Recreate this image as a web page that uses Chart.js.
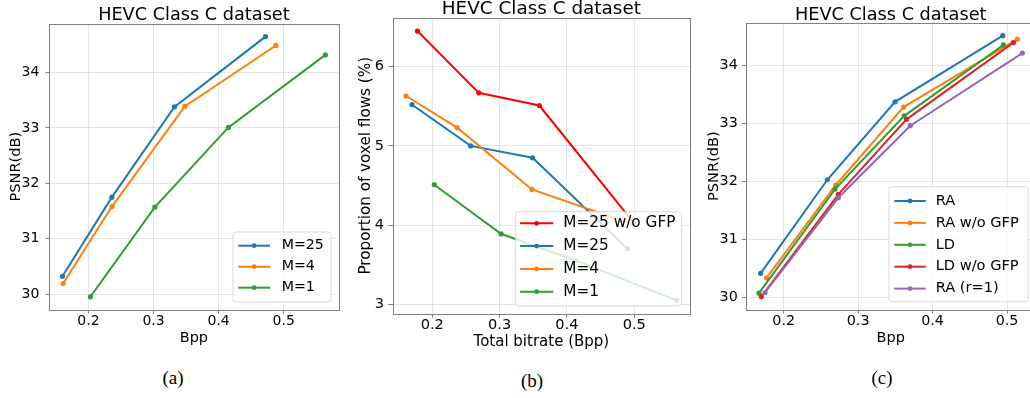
<!DOCTYPE html>
<html><head><meta charset="utf-8">
<script src="https://cdn.jsdelivr.net/npm/chart.js@4"></script>
<style>
html,body{margin:0;padding:0;background:#fff;width:1030px;height:398px;overflow:hidden;position:relative}
canvas{position:absolute;top:0}
.cap{position:absolute;font-family:"Liberation Serif","Times New Roman",serif;font-size:19px;transform:translate(-50%,-50%);color:#000;white-space:nowrap}
</style></head><body>
<canvas id="ca" width="345" height="360" style="left:0px"></canvas>
<canvas id="cb" width="350" height="360" style="left:345px"></canvas>
<canvas id="cc" width="360" height="360" style="left:690px"></canvas>
<div class="cap" style="left:173px;top:378px">(a)</div>
<div class="cap" style="left:532px;top:381px">(b)</div>
<div class="cap" style="left:882px;top:378px">(c)</div>
<script>
// ---------- shared text ----------
const titleText = "HEVC Class C dataset";
const xTicks = [0.2, 0.3, 0.4, 0.5];
const xTickLabels = ["0.2", "0.3", "0.4", "0.5"];
const psnrTicks = [30, 31, 32, 33, 34];
const psnrTickLabels = ["30", "31", "32", "33", "34"];
const flowTicks = [3, 4, 5, 6];
const flowTickLabels = ["3", "4", "5", "6"];

// ---------- panel (a) ----------
const aLabels = ["M=25", "M=4", "M=1"];
const aM25x = [0.160, 0.236, 0.332, 0.472];
const aM25y = [30.32, 31.75, 33.38, 34.65];
const aM4x  = [0.161, 0.236, 0.348, 0.488];
const aM4y  = [30.19, 31.58, 33.39, 34.49];
const aM1x  = [0.203, 0.302, 0.415, 0.564];
const aM1y  = [29.95, 31.57, 33.01, 34.32];

// ---------- panel (b) ----------
const bLabels = ["M=25 w/o GFP", "M=25", "M=4", "M=1"];
const bM25nx = [0.178, 0.269, 0.359, 0.499];
const bM25ny = [6.45, 5.67, 5.51, 4.03];
const bM25x  = [0.170, 0.257, 0.349, 0.490];
const bM25y  = [5.52, 5.00, 4.85, 3.70];
const bM4x   = [0.161, 0.237, 0.348, 0.497];
const bM4y   = [5.63, 5.23, 4.45, 4.01];
const bM1x   = [0.203, 0.302, 0.414, 0.563];
const bM1y   = [4.51, 3.89, 3.55, 3.05];

// ---------- panel (c) ----------
const cLabels = ["RA", "RA w/o GFP", "LD", "LD w/o GFP", "RA (r=1)"];
const cRAx   = [0.169, 0.2586, 0.3496, 0.4943];
const cRAy   = [30.42, 32.03, 33.37, 34.51];
const cRAnx  = [0.177, 0.270, 0.361, 0.514];
const cRAny  = [30.34, 31.94, 33.28, 34.45];
const cLDx   = [0.1668, 0.269, 0.362, 0.495];
const cLDy   = [30.08, 31.87, 33.13, 34.35];
const cLDnx  = [0.170, 0.2734, 0.365, 0.5086];
const cLDny  = [30.02, 31.78, 33.07, 34.39];
const cR1x   = [0.175, 0.2734, 0.370, 0.5207];
const cR1y   = [30.09, 31.72, 32.96, 34.21];

const C = {blue:"#1f77b4", orange:"#ff7f0e", green:"#2ca02c", red:"#d62728", purple:"#9467bd", pure:"#ff0000"};
const FONT = '"DejaVu Sans", sans-serif';
const SPINE = '#808080';

function limits(arrs) {
  const all = [].concat(...arrs);
  const lo = Math.min(...all), hi = Math.max(...all), m = (hi - lo) * 0.05;
  return [lo - m, hi + m];
}

const frameLegend = {
  id: 'frameLegend',
  afterDatasetsDraw(chart, args, o) {
    const {ctx, chartArea: a} = chart;
    ctx.save();
    // frame (all four spines)
    ctx.strokeStyle = SPINE;
    ctx.lineWidth = 1;
    ctx.strokeRect(Math.round(a.left) + 0.5, Math.round(a.top) + 0.5,
                   Math.round(a.right) - Math.round(a.left), Math.round(a.bottom) - Math.round(a.top));
    // title centred over the axes
    ctx.fillStyle = '#000';
    ctx.font = o.titleSize + 'px ' + FONT;
    ctx.textAlign = 'center';
    ctx.textBaseline = 'alphabetic';
    ctx.fillText(o.title, (a.left + a.right) / 2, o.titleBase);
    // legend
    const L = o.legend;
    const r = 3, x0 = L.x0, y0 = L.y0, x1 = L.x1, y1 = L.y1;
    ctx.beginPath();
    ctx.moveTo(x0 + r, y0); ctx.lineTo(x1 - r, y0); ctx.arcTo(x1, y0, x1, y0 + r, r);
    ctx.lineTo(x1, y1 - r); ctx.arcTo(x1, y1, x1 - r, y1, r);
    ctx.lineTo(x0 + r, y1); ctx.arcTo(x0, y1, x0, y1 - r, r);
    ctx.lineTo(x0, y0 + r); ctx.arcTo(x0, y0, x0 + r, y0, r);
    ctx.closePath();
    ctx.fillStyle = 'rgba(255,255,255,0.8)';
    ctx.fill();
    ctx.strokeStyle = 'rgba(214,214,214,0.9)';
    ctx.lineWidth = 1;
    ctx.stroke();
    chart.data.datasets.forEach((ds, i) => {
      const y = L.row0 + i * L.rowH;
      ctx.strokeStyle = ds.borderColor;
      ctx.lineWidth = 2;
      ctx.beginPath(); ctx.moveTo(L.h0, y); ctx.lineTo(L.h1, y); ctx.stroke();
      ctx.fillStyle = ds.borderColor;
      ctx.beginPath(); ctx.arc((L.h0 + L.h1) / 2, y, 2.4, 0, Math.PI * 2); ctx.fill();
      ctx.fillStyle = '#000';
      ctx.font = L.font + 'px ' + FONT;
      ctx.textBaseline = 'middle';
      ctx.textAlign = 'left';
      ctx.fillText(ds.label, L.tx, y);
    });
    ctx.restore();
  }
};

function makeChart(id, cfg) {
  const datasets = cfg.series.map((s, i) => ({
    label: s.label,
    data: s.x.map((x, j) => ({x: x, y: s.y[j]})),
    borderColor: s.color, backgroundColor: s.color,
    pointBackgroundColor: s.color, pointBorderWidth: 0,
    borderWidth: 2, pointRadius: 2.6, pointHoverRadius: 2.6,
    tension: 0, fill: false, order: -i
  }));
  const xl = limits(cfg.series.map(s => s.x));
  const yl = limits(cfg.series.map(s => s.y));
  const grid = {color: 'rgba(0,0,0,0.1)', tickColor: SPINE, tickLength: 4, drawTicks: true, lineWidth: 1};
  return new Chart(document.getElementById(id), {
    type: 'line',
    data: {datasets},
    plugins: [frameLegend],
    options: {
      responsive: false, animation: false, devicePixelRatio: 1,
      layout: {padding: cfg.pad},
      events: [],
      plugins: {
        legend: {display: false}, tooltip: {enabled: false}, title: {display: false},
        frameLegend: {legend: cfg.legend, title: titleText, titleSize: cfg.titleSize, titleBase: cfg.titleBase}
      },
      scales: {
        x: {
          type: 'linear', min: xl[0], max: xl[1],
          afterBuildTicks: s => { s.ticks = cfg.xTicks.map(v => ({value: v})); },
          afterFit: s => { s.height = cfg.xAxisH; },
          ticks: {callback: (v, i) => cfg.xTickLabels[i], color: '#000', font: {family: FONT, size: cfg.tickSize},
                  padding: cfg.xTickPad, maxRotation: 0, autoSkip: false},
          grid: grid, border: {display: false},
          title: {display: true, text: cfg.xTitle, color: '#000', font: {family: FONT, size: cfg.xLabelSize},
                  padding: {top: 0, bottom: cfg.xTitlePad}}
        },
        y: {
          type: 'linear', min: yl[0], max: yl[1],
          afterBuildTicks: s => { s.ticks = cfg.yTicks.map(v => ({value: v})); },
          afterFit: s => { s.width = cfg.yAxisW; },
          ticks: {callback: (v, i) => cfg.yTickLabels[i], color: '#000', font: {family: FONT, size: cfg.tickSize},
                  padding: cfg.yTickPad, autoSkip: false},
          grid: grid, border: {display: false},
          title: {display: true, text: cfg.yTitle, color: '#000', font: {family: FONT, size: cfg.yLabelSize},
                  padding: {top: cfg.yTitlePad, bottom: 0}}
        }
      }
    }
  });
}

makeChart('ca', {
  series: [
    {label: aLabels[0], x: aM25x, y: aM25y, color: C.blue},
    {label: aLabels[1], x: aM4x, y: aM4y, color: C.orange},
    {label: aLabels[2], x: aM1x, y: aM1y, color: C.green}
  ],
  xTicks, xTickLabels, yTicks: psnrTicks, yTickLabels: psnrTickLabels,
  xTitle: "Bpp", yTitle: "PSNR(dB)",
  pad: {left: 0, right: 6.5, top: 23.6, bottom: 0},
  titleSize: 17.7, titleBase: 20,
  tickSize: 14, xLabelSize: 14.5, yLabelSize: 14.6,
  xAxisH: 50.2, yAxisW: 49.3, xTickPad: -1, yTickPad: 6, xTitlePad: 13, yTitlePad: 7,
  legend: {x0: 233, y0: 232, x1: 331, y1: 302, row0: 245.7, rowH: 21, h0: 238.3, h1: 270, tx: 281.7, font: 14.2}
});

makeChart('cb', {
  series: [
    {label: bLabels[0], x: bM25nx, y: bM25ny, color: C.pure},
    {label: bLabels[1], x: bM25x, y: bM25y, color: C.blue},
    {label: bLabels[2], x: bM4x, y: bM4y, color: C.orange},
    {label: bLabels[3], x: bM1x, y: bM1y, color: C.green}
  ],
  xTicks, xTickLabels, yTicks: flowTicks, yTickLabels: flowTickLabels,
  xTitle: "Total bitrate (Bpp)", yTitle: "Proportion of voxel flows (%)",
  pad: {left: 0, right: 4.8, top: 17.6, bottom: 0},
  titleSize: 18.4, titleBase: 14,
  tickSize: 14.6, xLabelSize: 15, yLabelSize: 15.2,
  xAxisH: 46.2, yAxisW: 47.5, xTickPad: -1, yTickPad: 4.5, xTitlePad: 9, yTitlePad: 12,
  legend: {x0: 170.7, y0: 211.7, x1: 336.7, y1: 306, row0: 223.3, rowH: 22.8, h0: 175, h1: 208.3, tx: 218.3, font: 15.3}
});

makeChart('cc', {
  series: [
    {label: cLabels[0], x: cRAx, y: cRAy, color: C.blue},
    {label: cLabels[1], x: cRAnx, y: cRAny, color: C.orange},
    {label: cLabels[2], x: cLDx, y: cLDy, color: C.green},
    {label: cLabels[3], x: cLDnx, y: cLDny, color: C.red},
    {label: cLabels[4], x: cR1x, y: cR1y, color: C.purple}
  ],
  xTicks, xTickLabels, yTicks: psnrTicks, yTickLabels: psnrTickLabels,
  xTitle: "Bpp", yTitle: "PSNR(dB)",
  pad: {left: 0, right: 14.4, top: 22.6, bottom: 0},
  titleSize: 17.7, titleBase: 20,
  tickSize: 14.3, xLabelSize: 14.5, yLabelSize: 14.6,
  xAxisH: 50.4, yAxisW: 55.8, xTickPad: -1, yTickPad: 4, xTitlePad: 13, yTitlePad: 15.3,
  legend: {x0: 199, y0: 186.7, x1: 338, y1: 301.7, row0: 201, rowH: 21.9, h0: 204.3, h1: 235.7, tx: 245.7, font: 14.6}
});
</script>
</body></html>
